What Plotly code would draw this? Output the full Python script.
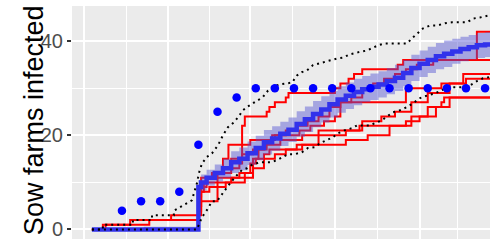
import plotly.graph_objects as go

# ---- data (x = days relative to first weekly observation) ----
obs_days = [0, 7, 14, 21, 28, 35, 42, 49, 56, 63, 70, 77, 84, 91, 98, 105, 112, 119, 126, 133]
obs_vals = [4, 6, 6, 8, 18, 25, 28, 30, 30, 30, 30, 30, 30, 30, 30, 30, 30, 30, 30, 30]

r1_days = [-11, 28, 29, 33, 37, 40, 44, 48, 52, 56, 60, 64, 68, 72, 76, 80, 84, 88, 92, 96, 100, 104, 108, 114, 130, 137]
r1_vals = [0, 9, 11, 12, 13, 15, 16, 17, 19, 20, 21, 22, 23, 24, 26, 27, 28, 30, 31, 32, 33, 34, 35, 36, 42, 42]

r2_days = [-11, 28, 29, 31, 35, 40, 43, 44, 45, 53, 54, 56, 60, 61, 78, 80, 83, 85, 88, 101, 103, 137]
r2_vals = [0, 7, 9, 11, 12, 13, 14, 22, 24, 25, 26, 27, 28, 29, 30, 31, 32, 33, 34, 35, 36, 36]

r3_days = [-11, 28, 29, 31, 33, 37, 39, 47, 55, 65, 69, 74, 78, 80, 104, 117, 125, 137]
r3_vals = [0, 6, 10, 11, 12, 15, 18, 19, 20, 21, 22, 23, 24, 27, 30, 31, 33, 33]

r4_days = [-11, -7, 3, 18, 28, 29, 35, 43, 47, 49, 52, 54, 64, 72, 87, 104, 109, 115, 117, 118, 137]
r4_vals = [0, 1, 2, 3, 4, 6, 11, 12, 14, 15, 16, 17, 18, 21, 22, 23, 24, 26, 27, 28, 28]

r5_days = [-11, -6, 10, 28, 29, 30, 40, 45, 48, 50, 53, 58, 66, 82, 88, 95, 100, 106, 112, 120, 126, 137]
r5_vals = [0, 1, 2, 5, 8, 10, 11, 12, 15, 17, 18, 19, 20, 21, 23, 24, 25, 27, 29, 31, 32, 32]

r6_days = [-11, 28, 29, 32, 38, 45, 48, 52, 56, 60, 66, 82, 90, 98, 106, 112, 120, 137]
r6_vals = [0, 3, 8, 9, 10, 11, 13, 15, 16, 17, 18, 19, 20, 22, 24, 26, 28, 28]

mean_days = [-11, 28, 29, 31, 34, 37, 40, 43, 46, 49, 52, 55, 58, 61, 64, 67, 70, 73, 76, 79, 82, 85,
             88, 91, 94, 97, 100, 103, 106, 109, 112, 115, 118, 121, 124, 127, 130, 133, 137]
mean_vals = [0, 9, 10, 11, 12, 13, 14.3, 15, 16.2, 17.3, 18.5, 19.3, 20.3, 21.2, 22.4, 23.4, 24.5, 25.5,
             26.6, 27.6, 28.4, 29.2, 29.8, 30.3, 30.8, 31.5, 32.2, 33.2, 34.3, 35.2, 36.0, 36.8, 37.3,
             37.8, 38.3, 38.7, 39.1, 39.3, 39.4]

band_days = [-11, 8, 28, 29, 31, 34, 37, 40, 43, 46, 49, 52, 55, 58, 61, 64, 67, 70, 73, 76, 79, 82, 85,
             88, 91, 94, 97, 100, 103, 106, 109, 112, 115, 118, 121, 124, 127, 130, 133, 137]
band_lo = [0, 0, 7.6, 8.3, 9.3, 10.2, 11.0, 12.0, 12.6, 13.7, 14.7, 15.9, 16.7, 17.7, 18.6, 19.7, 20.7,
           21.7, 22.7, 23.8, 24.8, 25.6, 26.4, 27.0, 27.5, 28.0, 28.7, 29.4, 30.4, 31.5, 32.4, 33.2,
           34.0, 34.5, 35.2, 35.7, 36.1, 36.4, 36.6, 36.7]
band_hi = [0, 0.6, 10.5, 11.7, 12.7, 13.8, 15.0, 16.6, 17.4, 18.7, 19.9, 21.1, 21.9, 22.9, 23.8, 25.1,
           26.1, 27.3, 28.3, 29.4, 30.4, 31.2, 32.0, 32.6, 33.1, 33.6, 34.3, 35.0, 36.0, 37.1, 38.0,
           38.8, 39.6, 40.1, 40.5, 40.9, 41.3, 41.7, 41.9, 42.0]

upper_days = [-11, -7, -7, 4, 4, 11, 11, 19, 19, 25.6, 27.5, 28.2, 29.3, 31.1, 33, 35.2, 37, 38.8, 40.7,
              42.5, 44.3, 45.8, 48, 49.8, 51.6, 53.5, 55.3, 57.9, 62.3, 64.1, 65.9, 67.8, 70, 72.5, 76.2,
              78.8, 81, 83.5, 86.4, 89.7, 91.6, 93.8, 96.3, 104.4, 106.6, 108.4, 110.3, 112.8, 115.4,
              118.3, 120.9, 126.4, 128.6, 131.1, 133.7, 137]
upper_vals = [0, 0, 1, 1, 2, 2, 3, 3, 4, 6.2, 9.9, 12, 14, 15.4, 16.2, 17.9, 20, 21.7, 22.6, 23.8, 25.3,
              26, 26.8, 27.4, 28.1, 29.5, 30.4, 30.8, 31.2, 32.7, 33.4, 33.8, 34.9, 35.3, 35.9, 36.3, 36.5,
              37.2, 37.6, 38, 38.5, 39.1, 39.5, 39.5, 40.8, 41.8, 42.7, 43.3, 43.3, 43.8, 44, 44, 44.8,
              45, 45.4, 45.8]

lower_days = [-11, 27.5, 27.8, 29.3, 31.1, 33, 34.8, 37, 38.8, 41.4, 43.9, 45.8, 47.6, 50.5, 54.6, 56.8,
              59, 60.8, 63.4, 65.9, 68.1, 70.7, 72.5, 75.1, 77.3, 79.1, 81.7, 84.2, 86.1, 90.8, 93.4,
              95.2, 97.1, 99.3, 101.8, 104.4, 106.6, 109.2, 112.1, 114.7, 117.2, 119.4, 124.9, 127.5,
              130, 132.2, 134.1, 137]
lower_vals = [0, 0, 0.5, 2.6, 4.1, 6, 6, 7.9, 9.2, 11.1, 12.6, 13, 13.7, 14.3, 14.3, 14.7, 15.4, 16, 16,
              16.4, 17.3, 17.5, 18.3, 19, 19.6, 20.4, 21.1, 21.5, 22.1, 22.1, 22.8, 23.2, 24, 24.9, 25.3,
              26, 26.8, 27.9, 28.5, 28.9, 29.6, 30.2, 30.2, 30.6, 31.5, 32.1, 32.3, 32.6]

y_ticks = [0, 20, 40]
y_minor = [10, 30]
x_major = [-14, 17, 47, 78, 109]
x_minor = [1.5, 32, 62.5, 93.5, 123]

FONT = "Liberation Sans, Arial, sans-serif"

fig = go.Figure()

for dx, dy in [(r1_days, r1_vals), (r2_days, r2_vals), (r3_days, r3_vals),
               (r4_days, r4_vals), (r5_days, r5_vals), (r6_days, r6_vals)]:
    fig.add_trace(go.Scatter(x=dx, y=dy, mode="lines",
                             line=dict(color="rgb(255,0,0)", width=2, shape="hv"),
                             showlegend=False, hoverinfo="skip"))

fig.add_trace(go.Scatter(x=band_days, y=band_lo, mode="lines",
                         line=dict(width=0, shape="hv"), showlegend=False, hoverinfo="skip"))
fig.add_trace(go.Scatter(x=band_days, y=band_hi, mode="lines", fill="tonexty",
                         fillcolor="rgba(80,80,210,0.45)",
                         line=dict(width=0, shape="hv"), showlegend=False, hoverinfo="skip"))

fig.add_trace(go.Scatter(x=mean_days, y=mean_vals, mode="lines",
                         line=dict(color="rgb(50,50,235)", width=4.5, shape="hv"),
                         showlegend=False))

for dx, dy in [(upper_days, upper_vals), (lower_days, lower_vals)]:
    fig.add_trace(go.Scatter(x=dx, y=dy, mode="lines",
                             line=dict(color="black", width=2, dash="2px,4px"),
                             showlegend=False, hoverinfo="skip"))

fig.add_trace(go.Scatter(x=obs_days, y=obs_vals, mode="markers",
                         marker=dict(color="rgb(0,0,255)", size=8.5, line=dict(width=0)),
                         showlegend=False))

fig.update_layout(
    width=490, height=247,
    margin=dict(l=72, r=0, t=6, b=8),
    paper_bgcolor="white",
    plot_bgcolor="rgb(235,235,235)",
    font=dict(family=FONT),
    xaxis=dict(range=[-18.3, 134.8], tickvals=x_major, showticklabels=False, ticks="",
               showgrid=True, gridcolor="white", gridwidth=2, zeroline=False, showline=False,
               minor=dict(tickvals=x_minor, showgrid=True, gridcolor="white", gridwidth=1, ticks="")),
    yaxis=dict(range=[-2.02, 47.45], tickvals=y_ticks, ticktext=[str(v) for v in y_ticks],
               ticks="outside", ticklen=4, tickwidth=1.5, tickcolor="#333333",
               tickfont=dict(size=20, color="#4D4D4D", family=FONT),
               showgrid=True, gridcolor="white", gridwidth=2, zeroline=False, showline=False,
               minor=dict(tickvals=y_minor, showgrid=True, gridcolor="white", gridwidth=1, ticks="")),
    annotations=[dict(text="Sow farms infected", textangle=-90, xref="paper", yref="paper",
                      x=-0.091, y=0.51, xanchor="center", yanchor="middle", showarrow=False,
                      font=dict(size=27, color="black", family=FONT))],
)

fig.write_html("out.html", config={"displayModeBar": False},
               post_script="document.body.style.margin='0px';document.body.style.overflow='hidden';")
